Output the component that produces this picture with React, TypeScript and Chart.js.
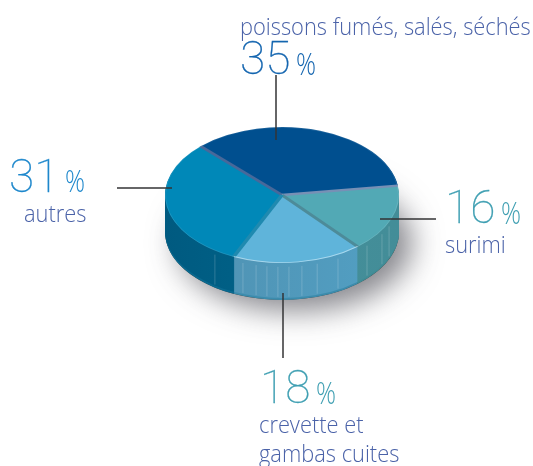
import React, { useEffect, useRef } from "react";
import { Chart, registerables } from "chart.js";

Chart.register(...registerables);

const categories = ["poissons fumés, salés, séchés", "surimi", "crevette et gambas cuites", "autres"];
const shares = [35, 16, 18, 31];
const topColors = ["#004f8f", "#52a9b5", "#5fb4da", "#0088b8"];
const sideLeftColors = ["#003f70", "#45919b", "#4f90b0", "#005a80"];
const sideRightColors = ["#003f70", "#438d98", "#52a0c4", "#006c92"];
const dividerColors = ["#47689a", "#7790b5", "#4d8b99", "#1f8ab0"];
const ribAngles = [113.8, 121.3, 133.4, 151.4, 162.5, 170.2, 176.6, 182, 187.4, 192.8, 199.5, 215];

const SQUASH = 0.58;
const DEPTH = 37;

const leaders = [
  { x1: 276, y1: 75, x2: 276, y2: 140 },
  { x1: 380, y1: 219, x2: 436, y2: 219 },
  { x1: 283, y1: 293, x2: 283, y2: 358 },
  { x1: 117, y1: 188, x2: 172, y2: 188 },
];

const labelLayout = [
  { color: "#1566b0", numX: 240, numY: 31, pctX: 296, pctY: 42, lines: [{ x: 240, y: 9 }] },
  { color: "#3f9fb2", numX: 445, numY: 180, pctX: 501, pctY: 191, lines: [{ x: 445, y: 227 }] },
  { color: "#3f9fb2", numX: 260, numY: 360, pctX: 316, pctY: 371, lines: [{ x: 259, y: 407 }, { x: 259, y: 436 }] },
  { color: "#1f88cc", numX: 9, numY: 149, pctX: 65, pctY: 159, lines: [{ x: 24, y: 196 }] },
];
const labelLines = [[categories[0]], [categories[1]], ["crevette et", "gambas cuites"], [categories[3]]];

function squashAt(ctx: CanvasRenderingContext2D, cy: number, dy: number) {
  ctx.translate(0, cy + dy);
  ctx.scale(1, SQUASH);
  ctx.translate(0, -cy);
}

function wedge(ctx: CanvasRenderingContext2D, a: any) {
  ctx.beginPath();
  ctx.moveTo(a.x, a.y);
  ctx.arc(a.x, a.y, a.outerRadius, a.startAngle, a.endAngle);
  ctx.closePath();
}

const pie3d = {
  id: "pie3d",
  beforeDatasetsDraw(chart: any) {
    const ctx: CanvasRenderingContext2D = chart.ctx;
    const arcs = chart.getDatasetMeta(0).data;
    const { x: cx, y: cy, outerRadius: r } = arcs[0];

    // cast shadow
    ctx.save();
    ctx.shadowColor = "rgba(60,60,70,0.62)";
    ctx.shadowBlur = 30;
    ctx.shadowOffsetX = 13;
    ctx.shadowOffsetY = 11;
    squashAt(ctx, cy, DEPTH);
    ctx.beginPath();
    ctx.arc(cx, cy, r, 0, Math.PI * 2);
    ctx.fillStyle = "#444";
    ctx.fill();
    ctx.restore();

    // side wall
    for (let i = DEPTH; i >= 1; i--) {
      ctx.save();
      squashAt(ctx, cy, i);
      arcs.forEach((a: any, k: number) => {
        const g = ctx.createLinearGradient(cx - r, 0, cx + r, 0);
        g.addColorStop(0, sideLeftColors[k]);
        g.addColorStop(1, sideRightColors[k]);
        ctx.fillStyle = i >= DEPTH - 1 ? "#3c8cad" : g;
        if (i >= DEPTH - 1 && k === 3) ctx.fillStyle = "#0a6a90";
        if (i >= DEPTH - 1 && k === 1) ctx.fillStyle = "#3f8c96";
        wedge(ctx, a);
        ctx.fill();
      });
      ctx.restore();
    }

    // ribs on the side wall
    ctx.save();
    ctx.strokeStyle = "rgba(255,255,255,0.18)";
    ctx.lineWidth = 1;
    ribAngles.forEach((deg) => {
      const t = ((deg - 90) * Math.PI) / 180;
      const x = cx + r * Math.cos(t);
      const y = cy + r * SQUASH * Math.sin(t);
      ctx.beginPath();
      ctx.moveTo(x, y + 4);
      ctx.lineTo(x, y + DEPTH - 3);
      ctx.stroke();
    });
    ctx.restore();

    ctx.save();
    squashAt(ctx, cy, 0);
  },
  afterDatasetsDraw(chart: any) {
    const ctx: CanvasRenderingContext2D = chart.ctx;
    ctx.restore();
    const arcs = chart.getDatasetMeta(0).data;
    const { x: cx, y: cy, outerRadius: r } = arcs[0];

    ctx.save();
    squashAt(ctx, cy, 0);
    // dividers
    arcs.forEach((a: any, k: number) => {
      ctx.save();
      ctx.beginPath();
      ctx.moveTo(cx, cy);
      ctx.lineTo(cx + r * Math.cos(a.startAngle), cy + r * Math.sin(a.startAngle));
      ctx.strokeStyle = dividerColors[k];
      ctx.lineWidth = 4;
      ctx.stroke();
      ctx.restore();
    });
    // rim
    arcs.forEach((a: any, k: number) => {
      ctx.beginPath();
      ctx.arc(cx, cy, r - 0.5, a.startAngle, a.endAngle);
      ctx.strokeStyle = k === 2 ? "rgba(225,245,255,0.55)" : "rgba(255,255,255,0.14)";
      ctx.lineWidth = k === 2 ? 1.6 : 1;
      ctx.stroke();
    });
    ctx.restore();

    // leader lines
    ctx.save();
    ctx.strokeStyle = "#333335";
    ctx.lineWidth = 1.5;
    leaders.forEach((l) => {
      ctx.beginPath();
      ctx.moveTo(l.x1, l.y1);
      ctx.lineTo(l.x2, l.y2);
      ctx.stroke();
    });
    ctx.restore();
  },
};

const FONT = "'Open Sans', 'Noto Sans', sans-serif";
const abs = (x: number, y: number, sx = 1): React.CSSProperties => ({
  position: "absolute",
  left: x,
  top: y,
  whiteSpace: "nowrap",
  lineHeight: "normal",
  fontFamily: FONT,
  transform: `scaleX(${sx})`,
  transformOrigin: "left top",
});

export default function App() {
  const ref = useRef<HTMLCanvasElement>(null);
  useEffect(() => {
    const chart = new Chart(ref.current!, {
      type: "pie",
      data: {
        labels: categories,
        datasets: [{ data: shares, backgroundColor: topColors, borderWidth: 0, clip: false } as any],
      },
      options: {
        responsive: false,
        animation: false,
        rotation: -44,
        layout: { padding: { left: 165, right: 134, top: 78, bottom: 154 } },
        plugins: { legend: { display: false }, tooltip: { enabled: false } },
      },
      plugins: [pie3d],
    } as any);
    return () => chart.destroy();
  }, []);

  return (
    <div style={{ position: "absolute", left: 0, top: 0, width: 533, height: 466, overflow: "hidden", background: "#fff" }}>
      <canvas ref={ref} width={533} height={466} style={{ display: "block", position: "absolute", left: 0, top: 0 }} />
      {labelLayout.map((l, i) => (
        <React.Fragment key={i}>
          <span style={{ ...abs(l.numX, l.numY), fontFamily: "Roboto, sans-serif", fontSize: 46, fontWeight: 100, color: l.color, WebkitTextStroke: "0.3px " + l.color }}>{shares[i]}</span>
          <span style={{ ...abs(l.pctX, l.pctY, 0.8), fontSize: 31, fontWeight: 300, color: l.color }}>%</span>
          {labelLines[i].map((t, j) => (
            <span key={j} style={{ ...abs(l.lines[j].x, l.lines[j].y, 0.91), fontSize: 24, fontWeight: 300, color: "#4a62a8" }}>{t}</span>
          ))}
        </React.Fragment>
      ))}
    </div>
  );
}
